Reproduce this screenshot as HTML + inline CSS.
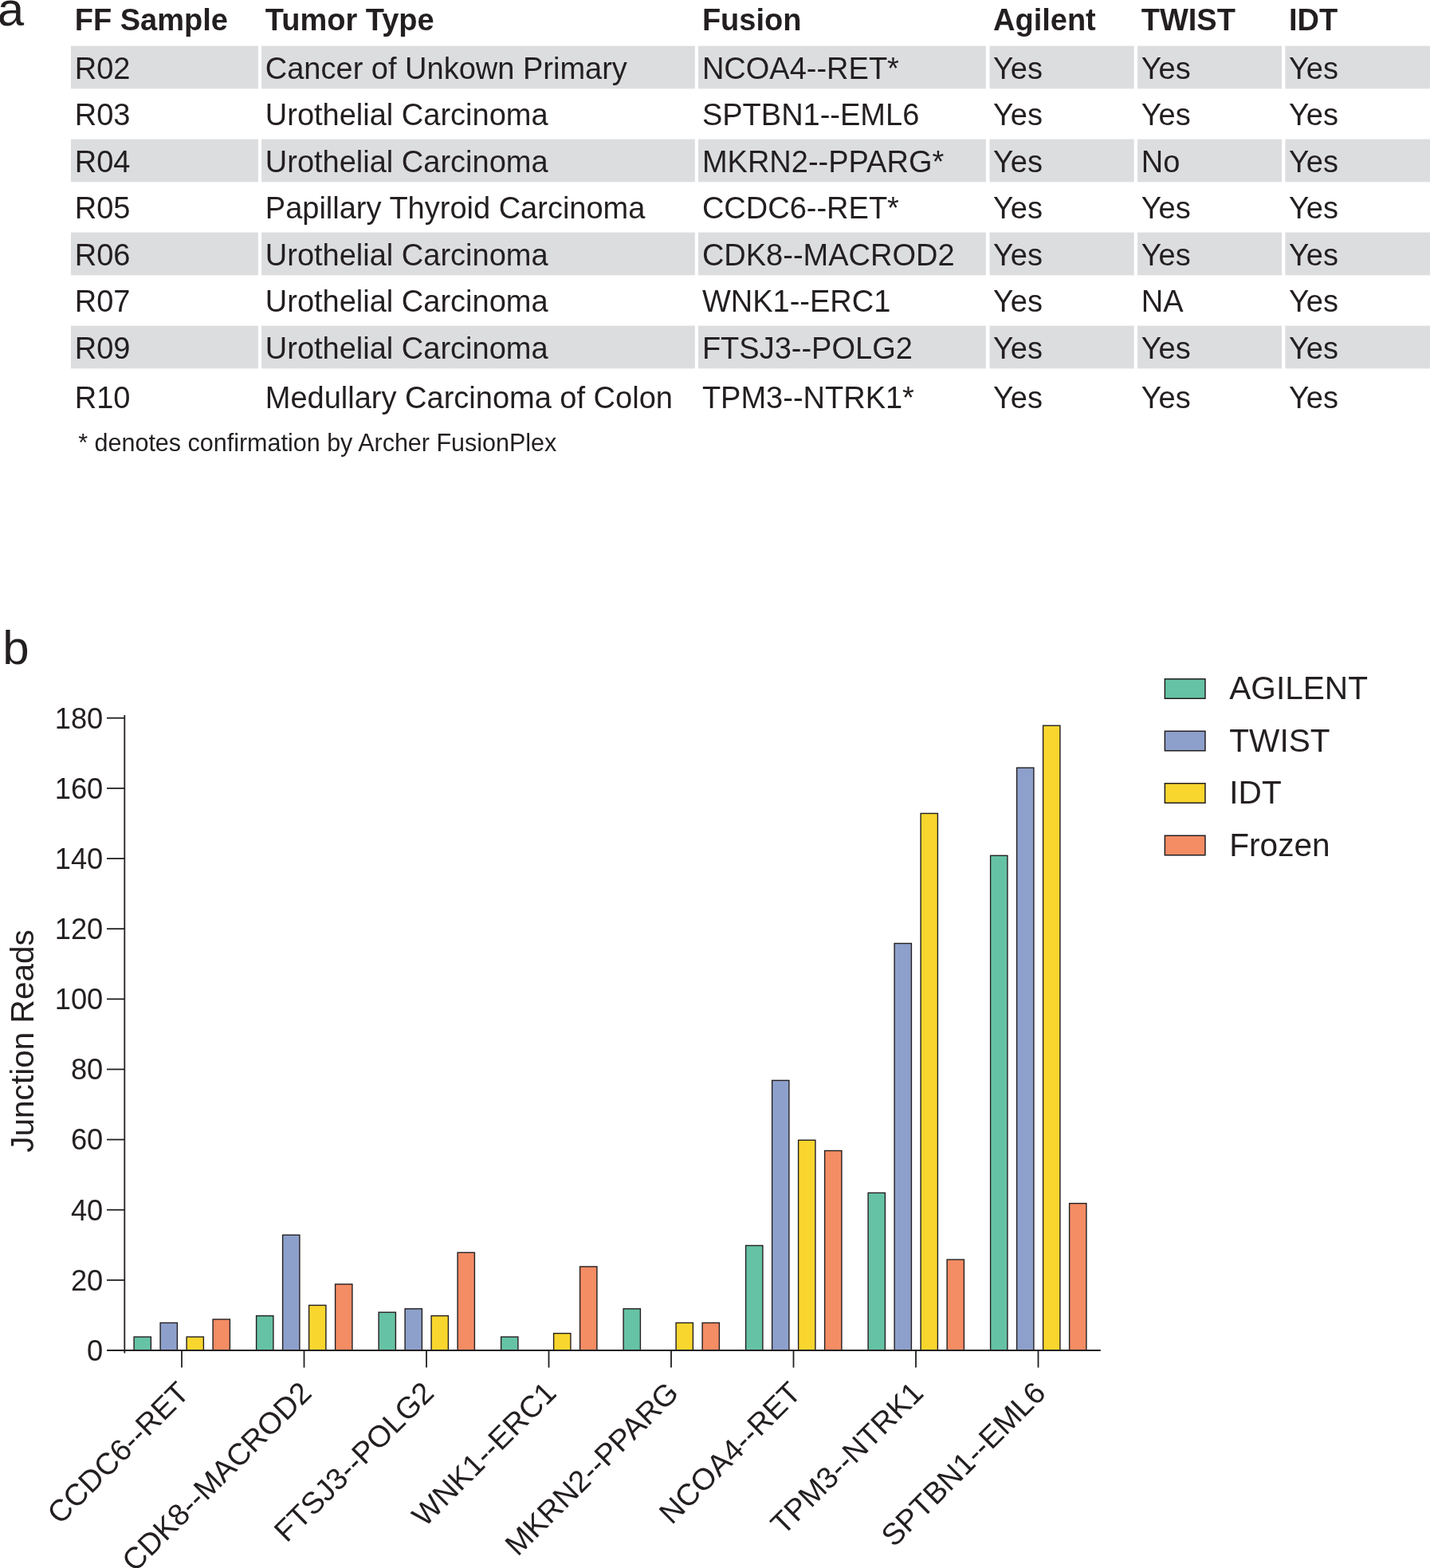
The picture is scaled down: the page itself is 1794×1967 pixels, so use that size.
<!DOCTYPE html>
<html><head><meta charset="utf-8"><title>Fusion detection figure</title>
<style>
html,body{margin:0;padding:0;background:#fff;}
body{width:1794px;height:1967px;overflow:hidden;}
svg{display:block;}
text{font-family:"Liberation Sans",Arial,Helvetica,sans-serif;fill:#231f20;}
</style></head><body>
<svg width="1794" height="1967" viewBox="0 0 1794 1967">
<rect width="1794" height="1967" fill="#fff"/>
<text x="-3.30" y="32.30" font-size="60">a</text>
<text x="3.30" y="833.10" font-size="60">b</text>
<rect x="88.9" y="57.60" width="235.00" height="53.7" fill="#dcdddf"/>
<rect x="328.1" y="57.60" width="543.70" height="53.7" fill="#dcdddf"/>
<rect x="876" y="57.60" width="360.90" height="53.7" fill="#dcdddf"/>
<rect x="1241.5" y="57.60" width="181.20" height="53.7" fill="#dcdddf"/>
<rect x="1427.1" y="57.60" width="180.90" height="53.7" fill="#dcdddf"/>
<rect x="1612.4" y="57.60" width="181.60" height="53.7" fill="#dcdddf"/>
<rect x="88.9" y="174.60" width="235.00" height="53.7" fill="#dcdddf"/>
<rect x="328.1" y="174.60" width="543.70" height="53.7" fill="#dcdddf"/>
<rect x="876" y="174.60" width="360.90" height="53.7" fill="#dcdddf"/>
<rect x="1241.5" y="174.60" width="181.20" height="53.7" fill="#dcdddf"/>
<rect x="1427.1" y="174.60" width="180.90" height="53.7" fill="#dcdddf"/>
<rect x="1612.4" y="174.60" width="181.60" height="53.7" fill="#dcdddf"/>
<rect x="88.9" y="291.60" width="235.00" height="53.7" fill="#dcdddf"/>
<rect x="328.1" y="291.60" width="543.70" height="53.7" fill="#dcdddf"/>
<rect x="876" y="291.60" width="360.90" height="53.7" fill="#dcdddf"/>
<rect x="1241.5" y="291.60" width="181.20" height="53.7" fill="#dcdddf"/>
<rect x="1427.1" y="291.60" width="180.90" height="53.7" fill="#dcdddf"/>
<rect x="1612.4" y="291.60" width="181.60" height="53.7" fill="#dcdddf"/>
<rect x="88.9" y="408.60" width="235.00" height="53.7" fill="#dcdddf"/>
<rect x="328.1" y="408.60" width="543.70" height="53.7" fill="#dcdddf"/>
<rect x="876" y="408.60" width="360.90" height="53.7" fill="#dcdddf"/>
<rect x="1241.5" y="408.60" width="181.20" height="53.7" fill="#dcdddf"/>
<rect x="1427.1" y="408.60" width="180.90" height="53.7" fill="#dcdddf"/>
<rect x="1612.4" y="408.60" width="181.60" height="53.7" fill="#dcdddf"/>
<text x="93.70" y="38.10" font-size="38" font-weight="bold">FF Sample</text>
<text x="332.80" y="38.10" font-size="38" font-weight="bold">Tumor Type</text>
<text x="880.90" y="38.10" font-size="38" font-weight="bold">Fusion</text>
<text x="1246.00" y="38.10" font-size="38" font-weight="bold">Agilent</text>
<text x="1431.70" y="38.10" font-size="38" font-weight="bold">TWIST</text>
<text x="1617.00" y="38.10" font-size="38" font-weight="bold">IDT</text>
<text x="93.70" y="98.60" font-size="38">R02</text>
<text x="332.80" y="98.60" font-size="38">Cancer of Unkown Primary</text>
<text x="880.90" y="98.60" font-size="38">NCOA4--RET*</text>
<text x="1246.00" y="98.60" font-size="38">Yes</text>
<text x="1431.70" y="98.60" font-size="38">Yes</text>
<text x="1617.00" y="98.60" font-size="38">Yes</text>
<text x="93.70" y="157.15" font-size="38">R03</text>
<text x="332.80" y="157.15" font-size="38">Urothelial Carcinoma</text>
<text x="880.90" y="157.15" font-size="38">SPTBN1--EML6</text>
<text x="1246.00" y="157.15" font-size="38">Yes</text>
<text x="1431.70" y="157.15" font-size="38">Yes</text>
<text x="1617.00" y="157.15" font-size="38">Yes</text>
<text x="93.70" y="215.70" font-size="38">R04</text>
<text x="332.80" y="215.70" font-size="38">Urothelial Carcinoma</text>
<text x="880.90" y="215.70" font-size="38">MKRN2--PPARG*</text>
<text x="1246.00" y="215.70" font-size="38">Yes</text>
<text x="1431.70" y="215.70" font-size="38">No</text>
<text x="1617.00" y="215.70" font-size="38">Yes</text>
<text x="93.70" y="274.25" font-size="38">R05</text>
<text x="332.80" y="274.25" font-size="38">Papillary Thyroid Carcinoma</text>
<text x="880.90" y="274.25" font-size="38">CCDC6--RET*</text>
<text x="1246.00" y="274.25" font-size="38">Yes</text>
<text x="1431.70" y="274.25" font-size="38">Yes</text>
<text x="1617.00" y="274.25" font-size="38">Yes</text>
<text x="93.70" y="332.80" font-size="38">R06</text>
<text x="332.80" y="332.80" font-size="38">Urothelial Carcinoma</text>
<text x="880.90" y="332.80" font-size="38">CDK8--MACROD2</text>
<text x="1246.00" y="332.80" font-size="38">Yes</text>
<text x="1431.70" y="332.80" font-size="38">Yes</text>
<text x="1617.00" y="332.80" font-size="38">Yes</text>
<text x="93.70" y="391.35" font-size="38">R07</text>
<text x="332.80" y="391.35" font-size="38">Urothelial Carcinoma</text>
<text x="880.90" y="391.35" font-size="38">WNK1--ERC1</text>
<text x="1246.00" y="391.35" font-size="38">Yes</text>
<text x="1431.70" y="391.35" font-size="38">NA</text>
<text x="1617.00" y="391.35" font-size="38">Yes</text>
<text x="93.70" y="449.90" font-size="38">R09</text>
<text x="332.80" y="449.90" font-size="38">Urothelial Carcinoma</text>
<text x="880.90" y="449.90" font-size="38">FTSJ3--POLG2</text>
<text x="1246.00" y="449.90" font-size="38">Yes</text>
<text x="1431.70" y="449.90" font-size="38">Yes</text>
<text x="1617.00" y="449.90" font-size="38">Yes</text>
<text x="93.70" y="512.00" font-size="38">R10</text>
<text x="332.80" y="512.00" font-size="38">Medullary Carcinoma of Colon</text>
<text x="880.90" y="512.00" font-size="38">TPM3--NTRK1*</text>
<text x="1246.00" y="512.00" font-size="38">Yes</text>
<text x="1431.70" y="512.00" font-size="38">Yes</text>
<text x="1617.00" y="512.00" font-size="38">Yes</text>
<text x="98.20" y="566.00" font-size="30.5">* denotes confirmation by Archer FusionPlex</text>
<rect x="168.10" y="1677.07" width="21.30" height="16.93" fill="#66c2a5" stroke="#231f20" stroke-width="1.4"/>
<rect x="201.10" y="1659.44" width="21.30" height="34.56" fill="#8da0cb" stroke="#231f20" stroke-width="1.4"/>
<rect x="234.10" y="1677.07" width="21.30" height="16.93" fill="#f9d62e" stroke="#231f20" stroke-width="1.4"/>
<rect x="267.10" y="1655.04" width="21.30" height="38.96" fill="#f48c64" stroke="#231f20" stroke-width="1.4"/>
<rect x="321.60" y="1650.63" width="21.30" height="43.37" fill="#66c2a5" stroke="#231f20" stroke-width="1.4"/>
<rect x="354.60" y="1549.27" width="21.30" height="144.73" fill="#8da0cb" stroke="#231f20" stroke-width="1.4"/>
<rect x="387.60" y="1637.41" width="21.30" height="56.59" fill="#f9d62e" stroke="#231f20" stroke-width="1.4"/>
<rect x="420.60" y="1610.97" width="21.30" height="83.03" fill="#f48c64" stroke="#231f20" stroke-width="1.4"/>
<rect x="475.10" y="1646.22" width="21.30" height="47.78" fill="#66c2a5" stroke="#231f20" stroke-width="1.4"/>
<rect x="508.10" y="1641.82" width="21.30" height="52.18" fill="#8da0cb" stroke="#231f20" stroke-width="1.4"/>
<rect x="541.10" y="1650.63" width="21.30" height="43.37" fill="#f9d62e" stroke="#231f20" stroke-width="1.4"/>
<rect x="574.10" y="1571.30" width="21.30" height="122.70" fill="#f48c64" stroke="#231f20" stroke-width="1.4"/>
<rect x="628.60" y="1677.07" width="21.30" height="16.93" fill="#66c2a5" stroke="#231f20" stroke-width="1.4"/>
<rect x="694.60" y="1672.66" width="21.30" height="21.34" fill="#f9d62e" stroke="#231f20" stroke-width="1.4"/>
<rect x="727.60" y="1588.93" width="21.30" height="105.07" fill="#f48c64" stroke="#231f20" stroke-width="1.4"/>
<rect x="782.10" y="1641.82" width="21.30" height="52.18" fill="#66c2a5" stroke="#231f20" stroke-width="1.4"/>
<rect x="848.10" y="1659.44" width="21.30" height="34.56" fill="#f9d62e" stroke="#231f20" stroke-width="1.4"/>
<rect x="881.10" y="1659.44" width="21.30" height="34.56" fill="#f48c64" stroke="#231f20" stroke-width="1.4"/>
<rect x="935.60" y="1562.49" width="21.30" height="131.51" fill="#66c2a5" stroke="#231f20" stroke-width="1.4"/>
<rect x="968.60" y="1355.36" width="21.30" height="338.64" fill="#8da0cb" stroke="#231f20" stroke-width="1.4"/>
<rect x="1001.60" y="1430.28" width="21.30" height="263.72" fill="#f9d62e" stroke="#231f20" stroke-width="1.4"/>
<rect x="1034.60" y="1443.50" width="21.30" height="250.50" fill="#f48c64" stroke="#231f20" stroke-width="1.4"/>
<rect x="1089.10" y="1496.38" width="21.30" height="197.62" fill="#66c2a5" stroke="#231f20" stroke-width="1.4"/>
<rect x="1122.10" y="1183.49" width="21.30" height="510.51" fill="#8da0cb" stroke="#231f20" stroke-width="1.4"/>
<rect x="1155.10" y="1020.43" width="21.30" height="673.57" fill="#f9d62e" stroke="#231f20" stroke-width="1.4"/>
<rect x="1188.10" y="1580.12" width="21.30" height="113.88" fill="#f48c64" stroke="#231f20" stroke-width="1.4"/>
<rect x="1242.60" y="1073.31" width="21.30" height="620.69" fill="#66c2a5" stroke="#231f20" stroke-width="1.4"/>
<rect x="1275.60" y="963.14" width="21.30" height="730.86" fill="#8da0cb" stroke="#231f20" stroke-width="1.4"/>
<rect x="1308.60" y="910.25" width="21.30" height="783.75" fill="#f9d62e" stroke="#231f20" stroke-width="1.4"/>
<rect x="1341.60" y="1509.61" width="21.30" height="184.39" fill="#f48c64" stroke="#231f20" stroke-width="1.4"/>
<line x1="156.30" y1="896.90" x2="156.30" y2="1697.60" stroke="#231f20" stroke-width="1.8"/>
<line x1="134.00" y1="1694.00" x2="1380.80" y2="1694.00" stroke="#231f20" stroke-width="1.9"/>
<line x1="134.00" y1="1694.00" x2="156.30" y2="1694.00" stroke="#231f20" stroke-width="1.8"/>
<text x="129.30" y="1706.90" font-size="36.3" text-anchor="end">0</text>
<line x1="134.00" y1="1605.86" x2="156.30" y2="1605.86" stroke="#231f20" stroke-width="1.8"/>
<text x="129.30" y="1618.76" font-size="36.3" text-anchor="end">20</text>
<line x1="134.00" y1="1517.72" x2="156.30" y2="1517.72" stroke="#231f20" stroke-width="1.8"/>
<text x="129.30" y="1530.62" font-size="36.3" text-anchor="end">40</text>
<line x1="134.00" y1="1429.58" x2="156.30" y2="1429.58" stroke="#231f20" stroke-width="1.8"/>
<text x="129.30" y="1442.48" font-size="36.3" text-anchor="end">60</text>
<line x1="134.00" y1="1341.44" x2="156.30" y2="1341.44" stroke="#231f20" stroke-width="1.8"/>
<text x="129.30" y="1354.34" font-size="36.3" text-anchor="end">80</text>
<line x1="134.00" y1="1253.30" x2="156.30" y2="1253.30" stroke="#231f20" stroke-width="1.8"/>
<text x="129.30" y="1266.20" font-size="36.3" text-anchor="end">100</text>
<line x1="134.00" y1="1165.16" x2="156.30" y2="1165.16" stroke="#231f20" stroke-width="1.8"/>
<text x="129.30" y="1178.06" font-size="36.3" text-anchor="end">120</text>
<line x1="134.00" y1="1077.02" x2="156.30" y2="1077.02" stroke="#231f20" stroke-width="1.8"/>
<text x="129.30" y="1089.92" font-size="36.3" text-anchor="end">140</text>
<line x1="134.00" y1="988.88" x2="156.30" y2="988.88" stroke="#231f20" stroke-width="1.8"/>
<text x="129.30" y="1001.78" font-size="36.3" text-anchor="end">160</text>
<line x1="134.00" y1="900.74" x2="156.30" y2="900.74" stroke="#231f20" stroke-width="1.8"/>
<text x="129.30" y="913.64" font-size="36.3" text-anchor="end">180</text>
<line x1="228.00" y1="1694.00" x2="228.00" y2="1715.60" stroke="#231f20" stroke-width="1.8"/>
<text transform="translate(239.50,1749.50) rotate(-45)" font-size="38" text-anchor="end">CCDC6--RET</text>
<line x1="381.50" y1="1694.00" x2="381.50" y2="1715.60" stroke="#231f20" stroke-width="1.8"/>
<text transform="translate(393.00,1749.50) rotate(-45)" font-size="38" text-anchor="end">CDK8--MACROD2</text>
<line x1="535.00" y1="1694.00" x2="535.00" y2="1715.60" stroke="#231f20" stroke-width="1.8"/>
<text transform="translate(546.50,1749.50) rotate(-45)" font-size="38" text-anchor="end">FTSJ3--POLG2</text>
<line x1="688.50" y1="1694.00" x2="688.50" y2="1715.60" stroke="#231f20" stroke-width="1.8"/>
<text transform="translate(700.00,1749.50) rotate(-45)" font-size="38" text-anchor="end">WNK1--ERC1</text>
<line x1="842.00" y1="1694.00" x2="842.00" y2="1715.60" stroke="#231f20" stroke-width="1.8"/>
<text transform="translate(853.50,1749.50) rotate(-45)" font-size="38" text-anchor="end">MKRN2--PPARG</text>
<line x1="995.50" y1="1694.00" x2="995.50" y2="1715.60" stroke="#231f20" stroke-width="1.8"/>
<text transform="translate(1007.00,1749.50) rotate(-45)" font-size="38" text-anchor="end">NCOA4--RET</text>
<line x1="1149.00" y1="1694.00" x2="1149.00" y2="1715.60" stroke="#231f20" stroke-width="1.8"/>
<text transform="translate(1160.50,1749.50) rotate(-45)" font-size="38" text-anchor="end">TPM3--NTRK1</text>
<line x1="1302.50" y1="1694.00" x2="1302.50" y2="1715.60" stroke="#231f20" stroke-width="1.8"/>
<text transform="translate(1314.00,1749.50) rotate(-45)" font-size="38" text-anchor="end">SPTBN1--EML6</text>
<text transform="translate(42.0,1445.8) rotate(-90)" font-size="40.6">Junction Reads</text>
<rect x="1461.35" y="851.75" width="50.60" height="24.50" fill="#66c2a5" stroke="#231f20" stroke-width="1.5"/>
<text x="1542.30" y="877.00" font-size="40.6">AGILENT</text>
<rect x="1461.35" y="917.25" width="50.60" height="24.50" fill="#8da0cb" stroke="#231f20" stroke-width="1.5"/>
<text x="1542.30" y="942.50" font-size="40.6">TWIST</text>
<rect x="1461.35" y="982.75" width="50.60" height="24.50" fill="#f9d62e" stroke="#231f20" stroke-width="1.5"/>
<text x="1542.30" y="1008.00" font-size="40.6">IDT</text>
<rect x="1461.35" y="1048.25" width="50.60" height="24.50" fill="#f48c64" stroke="#231f20" stroke-width="1.5"/>
<text x="1542.30" y="1073.50" font-size="40.6">Frozen</text>
</svg>
</body></html>
